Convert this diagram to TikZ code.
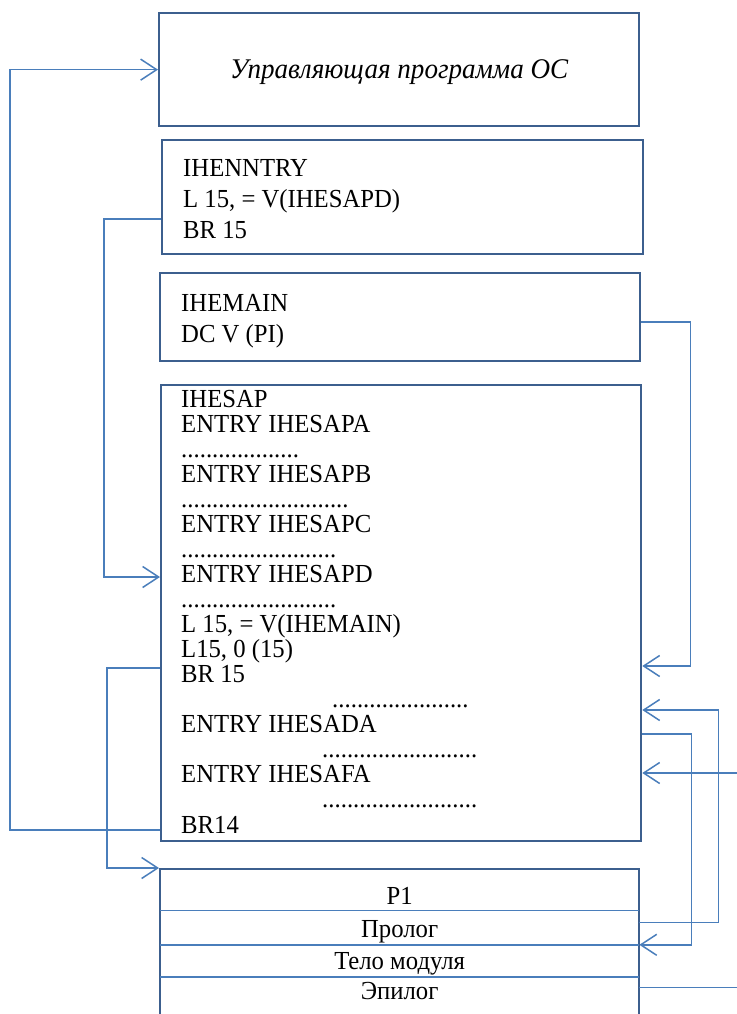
\documentclass[tikz,border=0pt]{standalone}
\usepackage{fontspec}
\setmainfont{Liberation Serif}[FakeStretch=0.95]
\usetikzlibrary{positioning,arrows.meta}
\definecolor{boxblue}{HTML}{3C5F8E}
\definecolor{linkblue}{HTML}{4A7EBB}
\newcommand{\dotrow}[1]{\hbox to #1pt{\leaders\hbox to 6.2pt{\hss.\hss}\hfill}}

\begin{document}
\begin{tikzpicture}[x=1pt,y=-1pt,
    box/.style={draw=boxblue,line width=2.3pt,minimum width=480pt,anchor=north west,inner sep=0pt},
    code/.style={anchor=base west,inner sep=0pt,font=\fontsize{26}{26}\selectfont},
    row/.style={minimum width=479pt,inner sep=0pt,text depth=0pt,font=\fontsize{26}{26}\selectfont},
    link/.style={draw=linkblue,line width=1.5pt},
    tip/.style={-{Straight Barb[length=16pt,width=21pt]}},
    rtip/.style={{Straight Barb[length=16pt,width=21pt]}-},
    divider/.style={draw=linkblue,line width=1.5pt}]
  \useasboundingbox (0,0) rectangle (736,1014);

  % control program
  \node[box,minimum height=113pt] (os) at (158,12) {};
  \node[font=\itshape\fontsize{28.5}{28.5}\selectfont] (ostext) at ([yshift=-2pt]os.center) {Управляющая программа ОС};

  % entry module
  \node[box,minimum width=481pt,minimum height=114pt] (entry) at (161,139) {};
  \node[code] (e1) at (183,176) {IHENNTRY};
  \node[code] (e2) at (183,207) {L 15, = V(IHESAPD)};
  \node[code] (e3) at (183,238) {BR 15};

  % main
  \node[box,minimum height=88pt] (main) at (159,272) {};
  \node[code] (m1) at (181,311) {IHEMAIN};
  \node[code] (m2) at (181,342) {DC V (PI)};

  % IHESAP
  \node[box,minimum height=456pt] (sap) at (160,384) {};
  \foreach \dx/\txt [count=\i from 0] in {
      0/IHESAP,
      0/ENTRY IHESAPA,
      0/\dotrow{118},
      0/ENTRY IHESAPB,
      0/\dotrow{169},
      0/ENTRY IHESAPC,
      0/\dotrow{157},
      0/ENTRY IHESAPD,
      0/\dotrow{157},
      0/{L 15, = V(IHEMAIN)},
      0/{L15, 0 (15)},
      0/BR 15,
      151/\dotrow{137},
      0/ENTRY IHESADA,
      141/\dotrow{156},
      0/ENTRY IHESAFA,
      141/\dotrow{156},
      0/BR14}
    \node[code] (s\i) at ({181+\dx},{407+25.06*\i}) {\txt};

  % P1
  \node[box,minimum width=479pt,minimum height=160pt] (pone) at (159,868) {};
  \node[row,minimum height=42pt,text height=30pt,anchor=north] (pname) at (pone.north) {P1};
  \node[row,minimum height=34pt,text height=20pt,below=0pt of pname] (prolog) {Пролог};
  \node[row,minimum height=32pt,text height=16pt,below=0pt of prolog] (body) {Тело модуля};
  \node[row,minimum height=30pt,text height=14pt,below=0pt of body] (epilog) {Эпилог};
  \draw[divider] (pname.south west) -- (pname.south east);
  \draw[divider] (prolog.south west) -- (prolog.south east);
  \draw[divider] (body.south west) -- (body.south east);

  % connectors left
  \draw[link,tip] ([yshift=-446pt]sap.north west) -- ++(-150,0) |- (os.west);
  \draw[link,tip] ([yshift=-80pt]entry.north west) -- ++(-57,0) |- ([yshift=-193pt]sap.north west);
  \draw[link,tip] ([yshift=-284pt]sap.north west) -- ++(-53,0) |- (pone.north west);

  % connectors right
  \draw[link,tip] ([yshift=-50pt]main.north east) -- ++(49,0) |- ([yshift=-282pt]sap.north east);
  \draw[link,tip] ([yshift=5pt]prolog.east) -- ++(79,0) |- ([yshift=-326pt]sap.north east);
  \draw[link,tip] ([yshift=-350pt]sap.north east) -- ++(49,0) |- (prolog.south east);
  \draw[link,rtip] ([yshift=-389pt]sap.north east) -- ++(100,0);
  \draw[link] ([yshift=5pt]epilog.east) -- ++(100,0);
\end{tikzpicture}
\end{document}
